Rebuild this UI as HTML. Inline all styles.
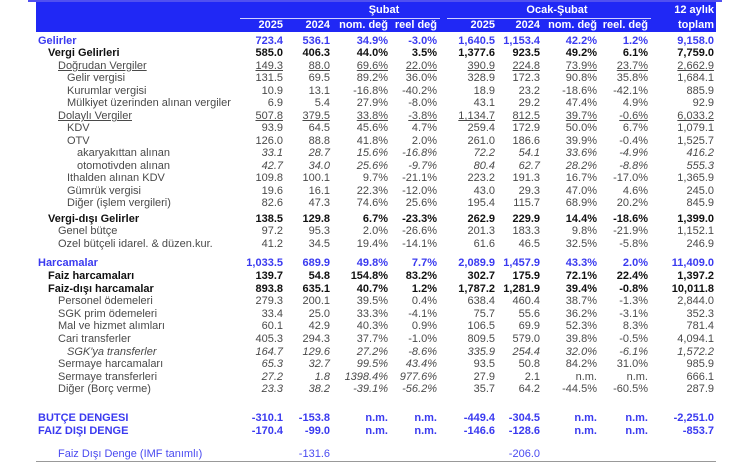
<!DOCTYPE html>
<html><head><meta charset="utf-8"><style>
body{margin:0;width:750px;height:474px;background:#fff;position:relative;overflow:hidden;font-family:"Liberation Sans",sans-serif;font-size:11px;color:#4a4a4a}
.r{position:absolute;left:0;width:750px;height:12px;line-height:12px}
.r span{position:absolute;white-space:nowrap}
.r span.l{left:0}
.c1{right:467px}.c2{right:420px}.c3{right:362px}.c4{right:313px}.c5{right:255px}.c6{right:210px}.c7{right:153px}.c8{right:102px}.c9{right:36px}
.b{font-weight:bold;color:#111}
.bl{font-weight:bold;color:#3a3af0}
.u span{text-decoration:underline}
.i{font-style:italic}
.hd{position:absolute;left:36px;top:2px;width:680px;height:30px;background:#2028f5;color:#fff;font-weight:bold;font-size:11px}
.hd span{position:absolute;white-space:nowrap}
</style></head><body>
<div style="position:absolute;left:28px;top:0;width:694px;height:2px;background:#5050f0"></div>
<div class="hd">
<span style="left:248px;width:200px;text-align:center;top:2px">Şubat</span>
<span style="left:411px;width:220px;text-align:center;top:2px">Ocak-Şubat</span>
<span style="right:2px;top:2px">12 aylık</span>
<div style="position:absolute;left:204px;top:16px;width:200px;height:1px;background:#cfd0ff"></div>
<div style="position:absolute;left:411px;top:16px;width:204px;height:1px;background:#cfd0ff"></div>
<span style="right:433px;top:17px">2025</span><span style="right:386px;top:17px">2024</span><span style="right:328px;top:17px">nom. değ</span><span style="right:279px;top:17px">reel değ</span>
<span style="right:221px;top:17px">2025</span><span style="right:176px;top:17px">2024</span><span style="right:119px;top:17px">nom. değ</span><span style="right:68px;top:17px">reel. değ</span><span style="right:2px;top:17px">toplam</span>
</div>

<div class="r bl" style="top:35px"><span class="l" style="left:38px">Gelirler</span><span class="c1">723.4</span><span class="c2">536.1</span><span class="c3">34.9%</span><span class="c4">-3.0%</span><span class="c5">1,640.5</span><span class="c6">1,153.4</span><span class="c7">42.2%</span><span class="c8">1.2%</span><span class="c9">9,158.0</span></div>
<div class="r b" style="top:47px"><span class="l" style="left:48px">Vergi Gelirleri</span><span class="c1">585.0</span><span class="c2">406.3</span><span class="c3">44.0%</span><span class="c4">3.5%</span><span class="c5">1,377.6</span><span class="c6">923.5</span><span class="c7">49.2%</span><span class="c8">6.1%</span><span class="c9">7,759.0</span></div>
<div class="r u" style="top:60px"><span class="l" style="left:58px">Doğrudan Vergiler</span><span class="c1">149.3</span><span class="c2">88.0</span><span class="c3">69.6%</span><span class="c4">22.0%</span><span class="c5">390.9</span><span class="c6">224.8</span><span class="c7">73.9%</span><span class="c8">23.7%</span><span class="c9">2,662.9</span></div>
<div class="r" style="top:72px"><span class="l" style="left:67px">Gelir vergisi</span><span class="c1">131.5</span><span class="c2">69.5</span><span class="c3">89.2%</span><span class="c4">36.0%</span><span class="c5">328.9</span><span class="c6">172.3</span><span class="c7">90.8%</span><span class="c8">35.8%</span><span class="c9">1,684.1</span></div>
<div class="r" style="top:85px"><span class="l" style="left:67px">Kurumlar vergisi</span><span class="c1">10.9</span><span class="c2">13.1</span><span class="c3">-16.8%</span><span class="c4">-40.2%</span><span class="c5">18.9</span><span class="c6">23.2</span><span class="c7">-18.6%</span><span class="c8">-42.1%</span><span class="c9">885.9</span></div>
<div class="r" style="top:97px"><span class="l" style="left:67px">Mülkiyet üzerinden alınan vergiler</span><span class="c1">6.9</span><span class="c2">5.4</span><span class="c3">27.9%</span><span class="c4">-8.0%</span><span class="c5">43.1</span><span class="c6">29.2</span><span class="c7">47.4%</span><span class="c8">4.9%</span><span class="c9">92.9</span></div>
<div class="r u" style="top:110px"><span class="l" style="left:58px">Dolaylı Vergiler</span><span class="c1">507.8</span><span class="c2">379.5</span><span class="c3">33.8%</span><span class="c4">-3.8%</span><span class="c5">1,134.7</span><span class="c6">812.5</span><span class="c7">39.7%</span><span class="c8">-0.6%</span><span class="c9">6,033.2</span></div>
<div class="r" style="top:122px"><span class="l" style="left:67px">KDV</span><span class="c1">93.9</span><span class="c2">64.5</span><span class="c3">45.6%</span><span class="c4">4.7%</span><span class="c5">259.4</span><span class="c6">172.9</span><span class="c7">50.0%</span><span class="c8">6.7%</span><span class="c9">1,079.1</span></div>
<div class="r" style="top:135px"><span class="l" style="left:67px">OTV</span><span class="c1">126.0</span><span class="c2">88.8</span><span class="c3">41.8%</span><span class="c4">2.0%</span><span class="c5">261.0</span><span class="c6">186.6</span><span class="c7">39.9%</span><span class="c8">-0.4%</span><span class="c9">1,525.7</span></div>
<div class="r i" style="top:147px"><span class="l" style="left:77px;font-style:normal">akaryakıttan alınan</span><span class="c1">33.1</span><span class="c2">28.7</span><span class="c3">15.6%</span><span class="c4">-16.8%</span><span class="c5">72.2</span><span class="c6">54.1</span><span class="c7">33.6%</span><span class="c8">-4.9%</span><span class="c9">416.2</span></div>
<div class="r i" style="top:160px"><span class="l" style="left:77px;font-style:normal">otomotivden alınan</span><span class="c1">42.7</span><span class="c2">34.0</span><span class="c3">25.6%</span><span class="c4">-9.7%</span><span class="c5">80.4</span><span class="c6">62.7</span><span class="c7">28.2%</span><span class="c8">-8.8%</span><span class="c9">555.3</span></div>
<div class="r" style="top:172px"><span class="l" style="left:67px">Ithalden alınan KDV</span><span class="c1">109.8</span><span class="c2">100.1</span><span class="c3">9.7%</span><span class="c4">-21.1%</span><span class="c5">223.2</span><span class="c6">191.3</span><span class="c7">16.7%</span><span class="c8">-17.0%</span><span class="c9">1,365.9</span></div>
<div class="r" style="top:185px"><span class="l" style="left:67px">Gümrük vergisi</span><span class="c1">19.6</span><span class="c2">16.1</span><span class="c3">22.3%</span><span class="c4">-12.0%</span><span class="c5">43.0</span><span class="c6">29.3</span><span class="c7">47.0%</span><span class="c8">4.6%</span><span class="c9">245.0</span></div>
<div class="r" style="top:197px"><span class="l" style="left:67px">Diğer (işlem vergileri)</span><span class="c1">82.6</span><span class="c2">47.3</span><span class="c3">74.6%</span><span class="c4">25.6%</span><span class="c5">195.4</span><span class="c6">115.7</span><span class="c7">68.9%</span><span class="c8">20.2%</span><span class="c9">845.9</span></div>
<div class="r b" style="top:213px"><span class="l" style="left:48px">Vergi-dışı Gelirler</span><span class="c1">138.5</span><span class="c2">129.8</span><span class="c3">6.7%</span><span class="c4">-23.3%</span><span class="c5">262.9</span><span class="c6">229.9</span><span class="c7">14.4%</span><span class="c8">-18.6%</span><span class="c9">1,399.0</span></div>
<div class="r" style="top:225px"><span class="l" style="left:58px">Genel bütçe</span><span class="c1">97.2</span><span class="c2">95.3</span><span class="c3">2.0%</span><span class="c4">-26.6%</span><span class="c5">201.3</span><span class="c6">183.3</span><span class="c7">9.8%</span><span class="c8">-21.9%</span><span class="c9">1,152.1</span></div>
<div class="r" style="top:238px"><span class="l" style="left:58px">Ozel bütçeli idarel. &amp; düzen.kur.</span><span class="c1">41.2</span><span class="c2">34.5</span><span class="c3">19.4%</span><span class="c4">-14.1%</span><span class="c5">61.6</span><span class="c6">46.5</span><span class="c7">32.5%</span><span class="c8">-5.8%</span><span class="c9">246.9</span></div>

<div class="r bl" style="top:257px"><span class="l" style="left:38px">Harcamalar</span><span class="c1">1,033.5</span><span class="c2">689.9</span><span class="c3">49.8%</span><span class="c4">7.7%</span><span class="c5">2,089.9</span><span class="c6">1,457.9</span><span class="c7">43.3%</span><span class="c8">2.0%</span><span class="c9">11,409.0</span></div>
<div class="r b" style="top:270px"><span class="l" style="left:48px">Faiz harcamaları</span><span class="c1">139.7</span><span class="c2">54.8</span><span class="c3">154.8%</span><span class="c4">83.2%</span><span class="c5">302.7</span><span class="c6">175.9</span><span class="c7">72.1%</span><span class="c8">22.4%</span><span class="c9">1,397.2</span></div>
<div class="r b" style="top:283px"><span class="l" style="left:48px">Faiz-dışı harcamalar</span><span class="c1">893.8</span><span class="c2">635.1</span><span class="c3">40.7%</span><span class="c4">1.2%</span><span class="c5">1,787.2</span><span class="c6">1,281.9</span><span class="c7">39.4%</span><span class="c8">-0.8%</span><span class="c9">10,011.8</span></div>
<div class="r" style="top:295px"><span class="l" style="left:58px">Personel ödemeleri</span><span class="c1">279.3</span><span class="c2">200.1</span><span class="c3">39.5%</span><span class="c4">0.4%</span><span class="c5">638.4</span><span class="c6">460.4</span><span class="c7">38.7%</span><span class="c8">-1.3%</span><span class="c9">2,844.0</span></div>
<div class="r" style="top:308px"><span class="l" style="left:58px">SGK prim ödemeleri</span><span class="c1">33.4</span><span class="c2">25.0</span><span class="c3">33.3%</span><span class="c4">-4.1%</span><span class="c5">75.7</span><span class="c6">55.6</span><span class="c7">36.2%</span><span class="c8">-3.1%</span><span class="c9">352.3</span></div>
<div class="r" style="top:320px"><span class="l" style="left:58px">Mal ve hizmet alımları</span><span class="c1">60.1</span><span class="c2">42.9</span><span class="c3">40.3%</span><span class="c4">0.9%</span><span class="c5">106.5</span><span class="c6">69.9</span><span class="c7">52.3%</span><span class="c8">8.3%</span><span class="c9">781.4</span></div>
<div class="r" style="top:333px"><span class="l" style="left:58px">Cari transferler</span><span class="c1">405.3</span><span class="c2">294.3</span><span class="c3">37.7%</span><span class="c4">-1.0%</span><span class="c5">809.5</span><span class="c6">579.0</span><span class="c7">39.8%</span><span class="c8">-0.5%</span><span class="c9">4,094.1</span></div>
<div class="r i" style="top:346px"><span class="l" style="left:67px">SGK'ya transferler</span><span class="c1">164.7</span><span class="c2">129.6</span><span class="c3">27.2%</span><span class="c4">-8.6%</span><span class="c5">335.9</span><span class="c6">254.4</span><span class="c7">32.0%</span><span class="c8">-6.1%</span><span class="c9">1,572.2</span></div>
<div class="r" style="top:358px"><span class="l" style="left:58px">Sermaye harcamaları</span><span class="c1 i">65.3</span><span class="c2 i">32.7</span><span class="c3 i">99.5%</span><span class="c4 i">43.4%</span><span class="c5">93.5</span><span class="c6">50.8</span><span class="c7">84.2%</span><span class="c8">31.0%</span><span class="c9">985.9</span></div>
<div class="r" style="top:371px"><span class="l" style="left:58px">Sermaye transferleri</span><span class="c1 i">27.2</span><span class="c2 i">1.8</span><span class="c3 i">1398.4%</span><span class="c4 i">977.6%</span><span class="c5">27.9</span><span class="c6">2.1</span><span class="c7">n.m.</span><span class="c8">n.m.</span><span class="c9">666.1</span></div>
<div class="r" style="top:383px"><span class="l" style="left:58px">Diğer (Borç verme)</span><span class="c1 i">23.3</span><span class="c2 i">38.2</span><span class="c3 i">-39.1%</span><span class="c4 i">-56.2%</span><span class="c5">35.7</span><span class="c6">64.2</span><span class="c7">-44.5%</span><span class="c8">-60.5%</span><span class="c9">287.9</span></div>

<div class="r bl" style="top:412px"><span class="l" style="left:38px">BUTÇE DENGESI</span><span class="c1">-310.1</span><span class="c2">-153.8</span><span class="c3">n.m.</span><span class="c4">n.m.</span><span class="c5">-449.4</span><span class="c6">-304.5</span><span class="c7">n.m.</span><span class="c8">n.m.</span><span class="c9">-2,251.0</span></div>
<div class="r bl" style="top:425px"><span class="l" style="left:38px">FAIZ DIŞI DENGE</span><span class="c1">-170.4</span><span class="c2">-99.0</span><span class="c3">n.m.</span><span class="c4">n.m.</span><span class="c5">-146.6</span><span class="c6">-128.6</span><span class="c7">n.m.</span><span class="c8">n.m.</span><span class="c9">-853.7</span></div>
<div class="r" style="top:448px;color:#4a4af0"><span class="l" style="left:58px">Faiz Dışı Denge (IMF tanımlı)</span><span class="c2">-131.6</span><span class="c6">-206.0</span></div>
<div style="position:absolute;left:36px;top:461px;width:680px;height:1px;background:#999"></div>
</body></html>
